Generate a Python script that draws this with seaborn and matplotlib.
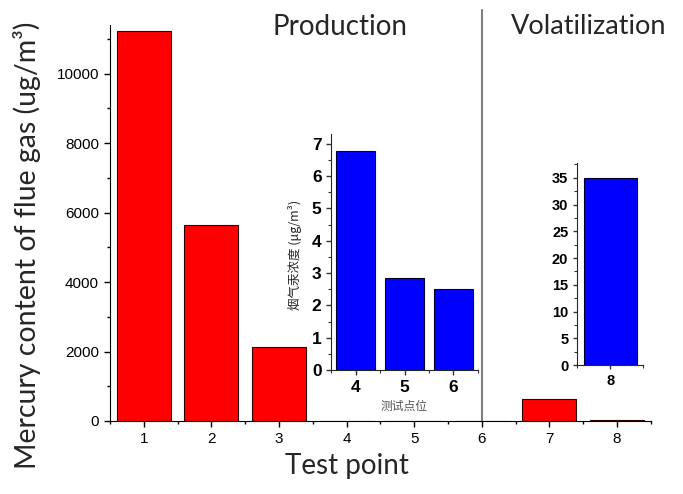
import matplotlib
matplotlib.use("Agg")
import pandas as pd
import matplotlib.pyplot as plt
import seaborn as sns
from matplotlib.ticker import MultipleLocator

# Mercury content of flue gas at each test point (ug/m3)
test_point = [1, 2, 3, 4, 5, 6, 7, 8]
mercury = [11240, 5640, 2140, 6.76, 2.85, 2.5, 620, 35]

# points shown again in the two zoomed insets
zoom_production = [4, 5, 6]
zoom_volatilization = [8]

df = pd.DataFrame({"point": test_point, "hg": mercury})

sns.set_style("ticks")
plt.rcParams["font.family"] = ["Liberation Sans", "DejaVu Sans"]
cjk = ["Noto Sans CJK SC", "DejaVu Sans"]

fig = plt.figure(figsize=(6.83, 4.94), dpi=100)

# main chart
ax = fig.add_axes([0.1611, 0.1478, 0.7918, 0.8016])
sns.barplot(data=df, x="point", y="hg", native_scale=True, width=0.8,
            color="#ff0000", saturation=1, edgecolor="#300000", linewidth=0.8, ax=ax)
ax.set_xlim(0.5, 8.5)
ax.set_ylim(0, 11400)
ax.set_xticks(test_point)
ax.xaxis.set_minor_locator(MultipleLocator(0.5))
ax.yaxis.set_major_locator(MultipleLocator(2000))
ax.yaxis.set_minor_locator(MultipleLocator(1000))
sns.despine(ax=ax)
ax.tick_params(which="major", length=4.5, width=1, labelsize=11, color="black", labelcolor="black")
ax.tick_params(which="minor", length=2.5, width=1, color="black")
for s in ax.spines.values():
    s.set_color("black")

ax.axvline(6, ymin=0, ymax=1.038, color="#808080", lw=1.5, clip_on=False)
ax.text(0.425, 0.995, "Production", transform=ax.transAxes, ha="center", va="center",
        fontsize=20, family="Lato")
ax.text(0.885, 0.995, "Volatilization", transform=ax.transAxes, ha="center", va="center",
        fontsize=19.5, family="Lato")

ax.set_xlabel("Test point", fontsize=20, family="Lato")
ax.xaxis.set_label_coords(0.438, -0.082)
ax.set_ylabel("Mercury content of flue gas (ug/m³)", fontsize=20.5, family="Lato")
ax.yaxis.set_label_coords(-0.128, 0.444)

# inset: production points
ax1 = fig.add_axes([0.4851, 0.2510, 0.2143, 0.4777])
sns.barplot(data=df[df.point.isin(zoom_production)], x="point", y="hg", native_scale=True,
            width=0.8, color="#0000ff", saturation=1, edgecolor="#000030", linewidth=0.8, ax=ax1)
ax1.set_xlim(3.5, 6.5)
ax1.set_ylim(0, 7.3)
ax1.set_xticks(zoom_production)
ax1.xaxis.set_minor_locator(MultipleLocator(0.5))
ax1.yaxis.set_major_locator(MultipleLocator(1))
ax1.yaxis.set_minor_locator(MultipleLocator(0.5))
sns.despine(ax=ax1)
ax1.tick_params(which="major", length=3.5, width=1, labelsize=12.5, color="#333333", labelcolor="black")
ax1.tick_params(which="minor", length=2, width=0.8, color="#333333")
for lab in ax1.get_xticklabels() + ax1.get_yticklabels():
    lab.set_fontweight("bold")
ax1.set_xlabel("测试点位", fontsize=8.5, family=cjk, color="#555555")
ax1.xaxis.set_label_coords(0.5, -0.125)
ax1.set_ylabel("烟气汞浓度 (μg/m³)", fontsize=9, family=cjk)
ax1.yaxis.set_label_coords(-0.2, 0.487)

# inset: volatilization point
ax2 = fig.add_axes([0.8453, 0.2611, 0.0966, 0.4083])
sns.barplot(data=df[df.point.isin(zoom_volatilization)], x="point", y="hg", native_scale=True,
            width=0.8, color="#0000ff", saturation=1, edgecolor="#000030", linewidth=0.8, ax=ax2)
ax2.set_xlim(7.5, 8.5)
ax2.set_ylim(0, 37.7)
ax2.set_xticks(zoom_volatilization)
ax2.xaxis.set_minor_locator(MultipleLocator(0.5))
ax2.yaxis.set_major_locator(MultipleLocator(5))
ax2.yaxis.set_minor_locator(MultipleLocator(2.5))
sns.despine(ax=ax2)
ax2.tick_params(which="major", length=3, width=1, labelsize=10.5, color="#333333", labelcolor="black")
ax2.tick_params(which="minor", length=2, width=0.8, color="#333333")
for lab in ax2.get_xticklabels() + ax2.get_yticklabels():
    lab.set_fontweight("bold")
ax2.set_xlabel("")
ax2.set_ylabel("")

fig.savefig("out.png", dpi=100)
